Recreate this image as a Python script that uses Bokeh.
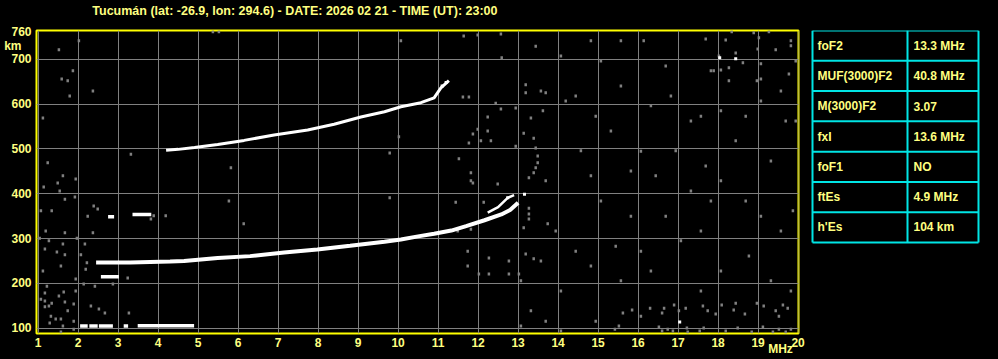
from bokeh.plotting import figure
from bokeh.models import Range1d, FixedTicker, ColumnDataSource, LinearAxis
from bokeh.layouts import row
from bokeh.embed import file_html
from bokeh.resources import INLINE
from bokeh.core.properties import value

# ---------------- data ----------------
title_text = "Tucumán (lat: -26.9, lon: 294.6) - DATE: 2026 02 21 - TIME (UT): 23:00"
title_at = 7.42
freq_ticks = list(range(1, 21))
height_ticks = [100, 200, 300, 400, 500, 600, 700, 760]
grid_heights = [100, 200, 300, 400, 500, 600, 700]
height_unit = "km"
height_unit_at = 730
freq_unit = "MHz"
freq_unit_at = 19.56

# F2 trace (upper, second hop)
upper_f = [4.2, 4.5, 4.91, 5.49, 6.15, 6.9, 7.74, 8.4, 9.07, 9.66, 10.07, 10.57, 10.9, 11.07, 11.27]
upper_h = [497, 499, 503, 510, 519, 531, 542, 555, 571, 583, 594, 603, 614, 636, 652]

# F2 trace (lower, first hop)
lower_f = [2.45, 2.8, 3.3, 3.8, 4.3, 4.65, 5.49, 6.3, 7.15, 7.98, 8.8, 9.66, 10.07, 10.5, 10.9,
           11.33, 11.7, 12.16, 12.58, 12.8, 13.0]
lower_h = [247, 247, 247, 248, 249, 250, 257, 261, 269, 276, 284, 293, 298, 305, 311,
           318, 328, 341, 354, 364, 380]
branch_f = [12.24, 12.5, 12.74, 12.9]
branch_h = [358, 370, 391, 397]

# short echo segments (Es and patches)
seg_f0 = [2.05, 2.28, 2.52, 3.14, 3.49, 2.57, 3.36, 2.75]
seg_f1 = [2.24, 2.49, 2.87, 3.25, 4.9, 3.02, 3.83, 2.9]
seg_h = [105, 105, 105, 105, 106, 215, 354, 349]

# bright isolated echoes
bright_f = [18.04, 18.44, 17.04, 13.16, 12.74, 11.1, 11.2]
bright_h = [703, 701, 114, 399, 391, 640, 648]

# grey noise speckles
noise_f = [1.12, 1.52, 2.02, 1.74, 1.79, 1.87, 1.59, 1.24, 1.62, 1.67, 1.54, 1.34, 1.12, 1.57,
           1.17, 1.22, 1.17, 1.27, 1.32, 1.44, 1.57, 1.62, 1.19, 1.94, 2.24, 2.37, 1.14, 1.49,
           1.07, 1.92, 2.39, 2.49, 1.27, 1.97, 1.67, 2.37, 1.62, 2.17, 1.67, 2.07, 2.22, 2.19,
           2.14, 2.42, 1.64, 1.94, 1.17, 1.04, 1.47, 1.94, 1.07, 1.34, 1.17, 1.52, 1.67, 1.74,
           1.89, 1.29, 1.89, 1.89, 1.57, 2.87, 3.24, 2.32, 2.52, 2.67, 3.27,
           5.37, 5.52, 10.07, 11.64, 11.99, 12.57, 12.59, 3.82, 3.32, 5.82, 5.77, 6.14, 9.79,
           9.79, 10.02, 3.89, 4.19, 11.52, 11.82, 11.82, 11.99, 12.07, 12.24, 12.24, 12.32,
           11.77, 11.87, 12.44, 12.57, 12.94, 13.14, 13.19, 13.19, 13.32, 13.39, 13.44, 13.49,
           13.49, 13.44, 13.39, 13.27, 13.57, 13.62, 13.69, 13.69, 12.94, 12.49, 11.87, 13.14,
           13.27, 13.27, 13.27, 13.74, 13.19, 13.39, 11.74, 11.74, 12.27, 12.27, 12.77, 12.77,
           12.02, 13.02, 11.82, 11.44, 12.14, 11.49, 11.62, 11.77,
           18.34, 17.69, 18.19, 18.89, 19.02, 19.27, 19.82, 19.82, 18.02, 18.44, 18.99, 19.44,
           17.82, 17.89, 18.07, 18.27, 18.62, 19.07, 19.77, 19.07, 18.27, 18.97,
           15.62, 15.85, 16.3, 16.65, 16.6, 16.9, 17.02, 17.19, 17.62, 17.74, 17.94, 18.09,
           18.44, 18.39, 18.67, 18.97, 19.14, 19.44, 19.52, 19.62, 19.74, 15.52, 15.42, 16.52,
           16.6, 16.74, 16.87, 17.22, 17.24, 17.54, 17.64, 18.19, 18.49, 18.84, 19.12, 19.37,
           19.52, 19.69, 19.82,
           13.44, 14.44, 15.07, 15.57, 16.14, 16.69, 17.32, 18.07, 19.07, 19.69, 18.44, 19.32,
           16.44, 17.69, 15.32, 14.19, 14.57, 15.07, 15.82, 17.07, 17.57, 18.69, 19.57, 19.87,
           17.32, 14.44, 15.57, 16.32, 17.57, 18.77, 19.32, 19.82, 13.94, 14.82, 13.07, 13.32,
           14.07, 16.07, 18.07, 14.07, 14.94, 16.07, 13.69, 13.07, 19.94, 19.94, 19.57, 16.82,
           16.07, 15.44, 13.57, 14.82, 16.69, 17.82, 19.07, 14.82, 14.07, 15.57, 17.57, 18.69,
           16.32, 14.94, 15.82, 16.94, 18.07]
noise_h = [569, 721, 741, 652, 618, 674, 656, 469, 440, 388, 406, 362, 228, 239,
           277, 194, 161, 150, 127, 121, 121, 105, 317, 433, 350, 629, 415, 424,
           362, 393, 373, 366, 295, 301, 313, 313, 288, 288, 264, 264, 246, 232,
           199, 194, 181, 183, 179, 301, 270, 210, 165, 156, 148, 172, 159, 139,
           154, 112, 116, 98, 92, 199, 212, 150, 143, 134, 134,
           761, 761, 741, 752, 754, 756, 703, 344, 488, 458, 384, 333, 491,
           391, 527, 351, 351, 478, 447, 429, 544, 518, 571, 540, 518,
           513, 533, 602, 589, 591, 535, 625, 643, 569, 524, 502, 484,
           469, 458, 447, 436, 629, 585, 625, 429, 506, 422, 424, 324,
           368, 355, 344, 333, 266, 255, 272, 239, 257, 221, 250, 221,
           221, 221, 321, 381, 381, 317, 616, 616,
           761, 745, 743, 759, 748, 761, 741, 730, 707, 714, 723, 721,
           674, 674, 676, 681, 692, 690, 667, 656, 652, 652,
           134, 141, 145, 145, 134, 152, 139, 145, 150, 139, 132, 152,
           156, 141, 132, 156, 150, 139, 127, 152, 145, 105, 98, 103,
           94, 98, 94, 101, 92, 94, 101, 94, 101, 92, 103, 92,
           98, 92, 98,
           729, 618, 696, 640, 741, 685, 562, 585, 607, 562, 518, 473,
           440, 462, 540, 607, 496, 384, 350, 295, 317, 384, 317, 362,
           406, 272, 206, 228, 183, 261, 206, 183, 317, 440, 206, 139,
           183, 272, 228, 94, 116, 127, 116, 105, 562, 696, 629, 618,
           495, 283, 250, 239, 350, 384, 350, 741, 707, 741, 573, 573,
           596, 573, 451, 496, 429]

table_params = ["foF2", "MUF(3000)F2", "M(3000)F2", "fxI", "foF1", "ftEs", "h'Es"]
table_values = ["13.3 MHz", "40.8 MHz", "3.07", "13.6 MHz", "NO", "4.9 MHz", "104 km"]

# ---------------- styling ----------------
BG = "#000000"
TXT = "#FFFF80"
GRID = "#808080"
FONT = "Liberation Sans"
NBSP = "\u00a0"

p = figure(width=806, height=359, output_backend="svg", toolbar_location=None,
           x_range=Range1d(0.96, 20.01), y_range=Range1d(88.5, 764),
           min_border_left=36, min_border_right=8, min_border_top=30, min_border_bottom=26,
           background_fill_color=BG, border_fill_color=BG)
p.outline_line_color = "#FFFF00"
p.outline_line_width = 2

xa = p.below[0]   # frequency axis
ya = p.left[0]    # virtual height axis

# station / date caption as a single label above the frame
top_ax = LinearAxis(ticker=FixedTicker(ticks=[title_at]),
                    major_label_overrides={title_at: title_text})
p.add_layout(top_ax, "above")
# frequency unit, set just below the tick labels near the right end
unit_ax = LinearAxis(ticker=FixedTicker(ticks=[freq_unit_at]),
                     major_label_overrides={freq_unit_at: freq_unit})
p.add_layout(unit_ax, "below")

for ax in (xa, ya, top_ax, unit_ax):
    ax.axis_line_color = None
    ax.major_tick_line_color = None
    ax.minor_tick_line_color = None
    ax.major_tick_in = 0
    ax.major_tick_out = 0
    ax.major_label_text_color = TXT
    ax.major_label_text_font = FONT
    ax.major_label_text_font_style = "bold"
    ax.major_label_text_font_size = "12px"
top_ax.major_label_text_font_size = "12.5px"
top_ax.major_label_standoff = 13
unit_ax.major_label_standoff = -8

xa.ticker = FixedTicker(ticks=freq_ticks)
ya.ticker = FixedTicker(ticks=height_ticks + [height_unit_at])
ya.major_label_overrides = {height_unit_at: height_unit + NBSP * 3}
xa.major_label_standoff = 4
ya.major_label_standoff = 5

p.xgrid[0].ticker = FixedTicker(ticks=freq_ticks)
p.ygrid[0].ticker = FixedTicker(ticks=grid_heights)
p.grid.grid_line_color = GRID
p.grid.grid_line_width = 1

# noise
p.rect(noise_f, noise_h, width=2.5, height=3, width_units="screen", height_units="screen",
       color=GRID, line_color=None)
# traces
p.line(lower_f, lower_h, line_color="white", line_width=4)
p.line(branch_f, branch_h, line_color="white", line_width=2.5)
p.line(upper_f, upper_h, line_color="white", line_width=3)
p.segment(seg_f0, seg_h, seg_f1, seg_h, line_color="white", line_width=3.5)
p.rect(bright_f, bright_h, width=3, height=3, width_units="screen", height_units="screen",
       color="white", line_color=None)

# ---------------- parameter table ----------------
n = len(table_params)
t_left, t_mid, t_right, t_top, t_bot = 6, 101, 172, 30, 242
row_h = (t_bot - t_top) / n
t = figure(width=192, height=359, output_backend="svg", toolbar_location=None,
           x_range=Range1d(0, 192), y_range=Range1d(333, 30),
           x_axis_type=None, y_axis_type=None,
           min_border_left=0, min_border_right=0, min_border_top=30, min_border_bottom=26,
           background_fill_color=BG, border_fill_color=BG)
t.grid.visible = False
t.outline_line_color = None

ys = [t_top + i * row_h for i in range(n + 1)]
t.segment([t_left] * (n + 1), ys, [t_right] * (n + 1), ys, line_color="#00E5E5", line_width=2)
t.segment([t_left, t_mid, t_right], [t_top] * 3, [t_left, t_mid, t_right], [t_bot] * 3,
          line_color="#00E5E5", line_width=2)
cy = [t_top + (i + 0.5) * row_h for i in range(n)]
src = ColumnDataSource(dict(y=cy, p=table_params, v=table_values))
t.text(x=11, y="y", text="p", source=src, text_color=TXT, text_font=value(FONT),
       text_font_style="bold", text_font_size="12px", text_baseline="middle")
t.text(x=107, y="y", text="v", source=src, text_color=TXT, text_font=value(FONT),
       text_font_style="bold", text_font_size="12px", text_baseline="middle")

layout = row(p, t, spacing=0, styles={"background-color": "black"})
open("out.html", "w").write(file_html(layout, INLINE))
